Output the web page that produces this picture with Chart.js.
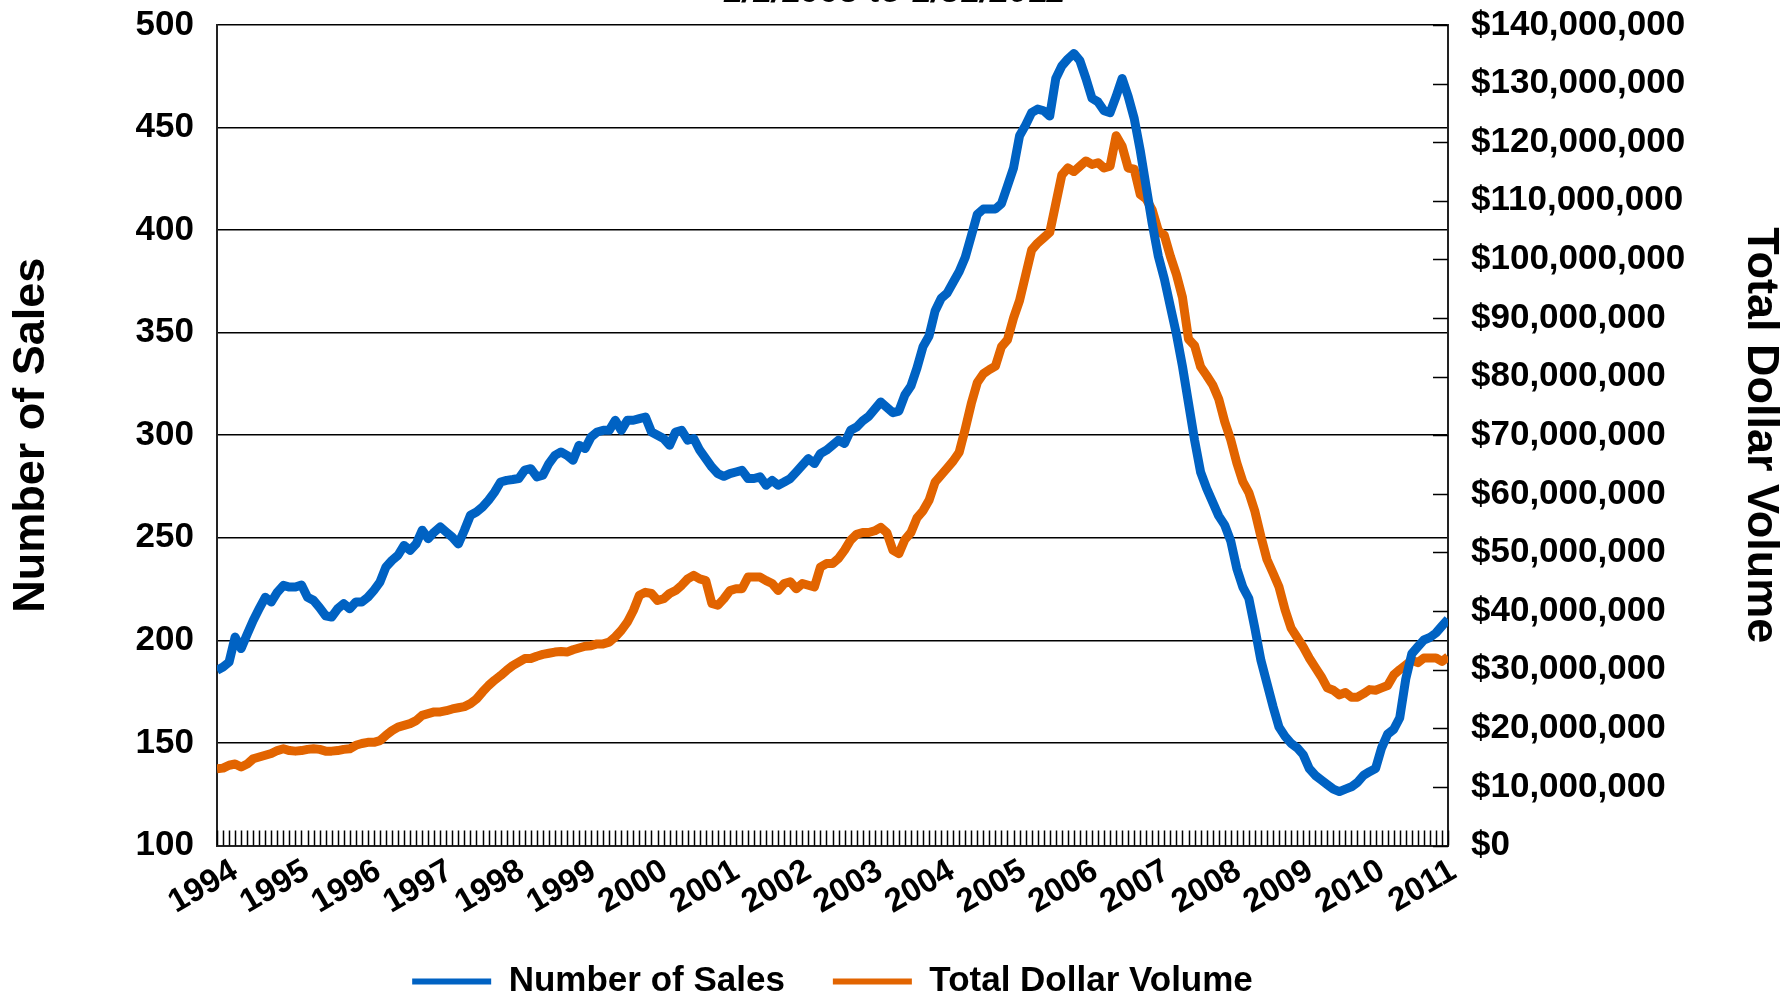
<!DOCTYPE html>
<html>
<head>
<meta charset="utf-8">
<title>Number of Sales and Total Dollar Volume</title>
<script src="https://cdn.jsdelivr.net/npm/chart.js"></script>
<style>
    html, body {
        margin: 0;
        padding: 0;
        background: #fff;
        overflow: hidden;
    }
    /* canvas sits 40px above the window so the title is cut like in the original */
    #wrap {
        position: absolute;
        left: 0;
        top: -40px;
        width: 1788px;
        height: 1049px;
    }
</style>
</head>
<body>
<div id="wrap"><canvas id="chart"></canvas></div>

<script>
const yearLabels = ['1994', '1995', '1996', '1997', '1998', '1999', '2000', '2001', '2002',
    '2003', '2004', '2005', '2006', '2007', '2008', '2009', '2010', '2011'];
const firstYear = 1994;

// one value per month, Jan 1994 .. Jan 2011 (12 per row)
const salesCount = [
    185.4, 187, 189.4, 201.6, 196, 203, 209.7, 215.5, 221, 218.7, 223.5, 226.8,
    226, 226, 227, 221, 219.5, 216, 212, 211.4, 215.4, 217.9, 215.4, 218.7,
    218.7, 221, 224.4, 228.4, 235.8, 239, 241.5, 246.3, 243.9, 247, 253.7, 249.6,
    252.8, 255.3, 252.8, 250.3, 247, 253.7, 261, 262.6, 265, 268.3, 272.3, 277.2,
    278, 278.4, 278.9, 283, 283.7, 279.7, 280.5, 286.2, 290.2, 291.8, 290.2, 287.8,
    295.1, 293.5, 299.2, 301.6, 302.4, 302.4, 307.3, 302.4, 307.3, 307.3, 308.1, 308.9,
    301.6, 300, 298.4, 295.1, 301.6, 302.4, 297.6, 298.4, 292.7, 288.6, 284.5, 281.3,
    280, 281.3, 282.1, 282.9, 278.9, 278.9, 279.7, 275.6, 278, 275.6, 277.2, 278.9,
    282.1, 285.4, 288.6, 286.2, 291, 292.7, 295.1, 297.6, 296, 302.4, 304, 307,
    309.2, 312.7, 316.2, 313.6, 311, 311.8, 319.7, 324, 332.8, 343.2, 348.4, 360.6,
    366.7, 369.3, 374.6, 379.8, 386.8, 397.2, 407.7, 410.3, 410.3, 410.3, 412.9, 421.6,
    430.3, 446, 451.2, 457.3, 459, 458.2, 455.6, 473.9, 480, 483.4, 486.1, 482.6,
    473.9, 464.3, 462.5, 458.2, 457.3, 465.2, 473.9, 465.2, 454.4, 438.8, 420.8, 402.9,
    387.2, 376.1, 362.6, 349.2, 333.5, 315.6, 297.7, 282, 274.1, 267.4, 260.7, 256.2,
    248.4, 235, 226, 220.4, 205.8, 190.2, 179, 167.8, 157.7, 153.2, 149.8, 147.6,
    144.3, 137.5, 134.2, 131.9, 129.7, 127.5, 126.3, 127.5, 128.6, 130.8, 134.2, 136,
    137.5, 147.6, 154.3, 156.6, 162.2, 181.2, 193.5, 196.9, 200.2, 201.4, 203.6, 207,
    210.3
];

// total dollar volume in millions of dollars, same months
const volumeMillions = [
    13.1, 13.2, 13.7, 13.9, 13.4, 13.9, 14.8, 15.1, 15.4, 15.7, 16.2, 16.5,
    16.2, 16.1, 16.2, 16.4, 16.5, 16.4, 16.1, 16.1, 16.2, 16.4, 16.5, 17.1,
    17.4, 17.6, 17.6, 17.9, 18.8, 19.6, 20.2, 20.5, 20.8, 21.3, 22.2, 22.5,
    22.8, 22.8, 23.0, 23.3, 23.5, 23.7, 24.2, 25.0, 26.2, 27.3, 28.2, 29.0,
    29.9, 30.7, 31.3, 31.9, 31.9, 32.3, 32.6, 32.8, 33.0, 33.1, 33.0, 33.4,
    33.7, 34.0, 34.1, 34.4, 34.4, 34.7, 35.6, 36.7, 38.1, 40.1, 42.7, 43.2,
    43.0, 41.8, 42.1, 43.0, 43.5, 44.4, 45.5, 46.1, 45.5, 45.2, 41.3, 41.0,
    42.1, 43.5, 43.8, 43.8, 45.8, 45.8, 45.8, 45.2, 44.7, 43.5, 44.7, 45.0,
    43.8, 44.7, 44.4, 44.1, 47.5, 48.1, 48.1, 49.0, 50.4, 52.1, 53.1, 53.4,
    53.4, 53.7, 54.3, 53.4, 50.4, 49.8, 52.2, 53.4, 55.9, 57.1, 58.9, 62,
    63.2, 64.4, 65.6, 67.1, 71.1, 75.4, 79, 80.5, 81.2, 81.8, 85.1, 86.3,
    90, 93, 97.3, 101.6, 102.8, 103.7, 104.6, 109.5, 114.4, 115.6, 115, 115.9,
    116.8, 116.2, 116.5, 115.6, 115.9, 121.1, 119.3, 115.6, 115.4, 111.1, 110.3, 108.4,
    104.9, 104.1, 100.5, 97.4, 93.5, 86.4, 85.3, 81.7, 80.2, 78.6, 76.2, 72.3,
    69.2, 65.3, 62.1, 60.2, 57.0, 52.7, 48.8, 46.5, 44.1, 40.2, 37.1, 35.5,
    33.9, 32.0, 30.4, 28.8, 26.9, 26.5, 25.7, 26.1, 25.3, 25.3, 25.9, 26.6,
    26.5, 26.9, 27.3, 29.1, 30.0, 30.8, 31.6, 31.2, 32.0, 32.0, 32.0, 31.4,
    32.2
];

const blue = '#0062C3';
const orange = '#E26400';

Chart.defaults.font.family = '"Liberation Sans", Arial, sans-serif';
Chart.defaults.font.weight = 'bold';
Chart.defaults.color = '#000';

// short tick marks pointing into the plot: every month on the bottom, every $10M on the right
const insideTicks = {
    id: 'insideTicks',
    beforeDatasetsDraw(chart) {
        const {ctx, chartArea, scales} = chart;
        ctx.save();
        ctx.strokeStyle = '#000';
        ctx.lineWidth = 1.5;
        ctx.beginPath();
        salesCount.forEach((v, i) => {
            const x = Math.round(scales.x.getPixelForValue(firstYear + i / 12)) + 0.5;
            ctx.moveTo(x, chartArea.bottom);
            ctx.lineTo(x, chartArea.bottom - 15);
        });
        scales.y1.ticks.forEach(t => {
            const y = Math.round(scales.y1.getPixelForValue(t.value)) + 0.5;
            ctx.moveTo(chartArea.right, y);
            ctx.lineTo(chartArea.right - 15, y);
        });
        ctx.stroke();
        ctx.restore();
    }
};

new Chart(document.getElementById('chart'), {
    type: 'line',
    data: {
        datasets: [{
            label: 'Number of Sales',
            data: salesCount.map((v, i) => ({x: firstYear + i / 12, y: v})),
            yAxisID: 'y',
            borderColor: blue,
            backgroundColor: blue,
            borderWidth: 9,
            pointRadius: 0,
            tension: 0,
            borderJoinStyle: 'round'
        }, {
            label: 'Total Dollar Volume',
            data: volumeMillions.map((v, i) => ({x: firstYear + i / 12, y: v})),
            yAxisID: 'y1',
            borderColor: orange,
            backgroundColor: orange,
            borderWidth: 9,
            pointRadius: 0,
            tension: 0,
            borderJoinStyle: 'round'
        }]
    },
    options: {
        responsive: true,
        maintainAspectRatio: false,
        animation: false,
        devicePixelRatio: 1,
        layout: { padding: 0 },
        plugins: {
            title: {
                display: true,
                text: '1/1/1993 to 1/31/2011',
                font: { size: 35, weight: 'bold', style: 'italic' },
                padding: { top: 11, bottom: 12 }
            },
            legend: {
                position: 'bottom',
                fullSize: false,
                labels: {
                    boxWidth: 79,
                    boxHeight: 6,
                    padding: 48,
                    font: { size: 35, weight: 'bold' },
                    generateLabels: chart => Chart.defaults.plugins.legend.labels.generateLabels(chart)
                        .map(item => ({ ...item, lineWidth: 0 }))
                }
            },
            tooltip: { enabled: false }
        },
        scales: {
            x: {
                type: 'linear',
                min: 1994,
                max: 2011,
                grid: { display: false, drawTicks: false },
                border: { display: true, color: '#222', width: 2 },
                // year labels sit a little closer together than the years themselves
                afterBuildTicks: s => {
                    s.ticks = yearLabels.map((t, i) => ({ value: firstYear + i * 0.99 }));
                },
                ticks: {
                    autoSkip: false,
                    minRotation: 30,
                    maxRotation: 30,
                    padding: 6,
                    labelOffset: 18,
                    font: { size: 33, weight: 'bold' },
                    callback: (v, i) => yearLabels[i]
                },
                afterFit: s => { s.height = 70.5; }
            },
            y: {
                position: 'left',
                min: 100,
                max: 500,
                grid: { color: '#000', lineWidth: 1.6, drawTicks: false },
                border: { display: true, color: '#222', width: 2 },
                ticks: { stepSize: 50, padding: 23, font: { size: 35, weight: 'bold' } },
                title: {
                    display: true,
                    text: 'Number of Sales',
                    font: { size: 45, weight: 'bold' },
                    padding: { top: 5, bottom: 0 }
                },
                afterFit: s => { s.width = 217; }
            },
            y1: {
                position: 'right',
                min: 0,
                max: 140,
                grid: { drawOnChartArea: false, drawTicks: false },
                border: { display: true, color: '#222', width: 2 },
                ticks: {
                    stepSize: 10,
                    padding: 23,
                    font: { size: 35, weight: 'bold' },
                    callback: v => '$' + (v * 1000000).toLocaleString('en-US')
                },
                title: {
                    display: true,
                    text: 'Total Dollar Volume',
                    font: { size: 45, weight: 'bold' },
                    padding: { top: 1, bottom: 0 }
                },
                afterFit: s => { s.width = 340; }
            }
        }
    },
    plugins: [insideTicks]
});
</script>
</body>
</html>
